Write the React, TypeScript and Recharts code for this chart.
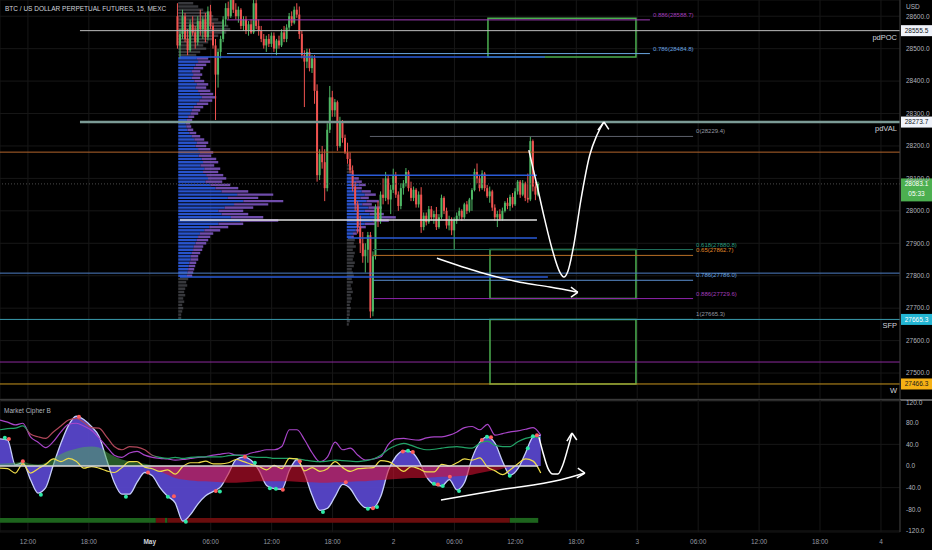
import React from 'react';
import {
  ComposedChart,
  Bar,
  Line,
  Area,
  Scatter,
  XAxis,
  YAxis,
  CartesianGrid,
  ReferenceLine,
  ReferenceArea,
} from 'recharts';

// x axis unit = one 15 min bar, 0 = Apr 30 12:00
const T_MIN = -11;
const T_MAX = 343.5;
const FIRST_BAR = 59;
const PRICE_DOMAIN = [27420, 28650];

const timeTicks = [0, 24, 48, 72, 96, 120, 144, 168, 192, 216, 240, 264, 288, 312, 336];
const timeLabels = ['12:00', '18:00', 'May', '06:00', '12:00', '18:00', '2', '06:00', '12:00', '18:00', '3', '06:00', '12:00', '18:00', '4'];
const priceTicks = [27500, 27600, 27700, 27800, 27900, 28000, 28100, 28200, 28300, 28400, 28500, 28600];
const oscTicks = [-120, -80, -40, 0, 40, 80, 120];

// [open, high, low, close] from bar 59 onward
const ohlc: number[][] = [
  [28600, 28640, 28500, 28510], [28510, 28560, 28470, 28545], [28545, 28620, 28530, 28600], [28600, 28610, 28520, 28530],
  [28530, 28560, 28480, 28495], [28495, 28590, 28490, 28575], [28575, 28600, 28540, 28550], [28550, 28570, 28500, 28520],
  [28520, 28600, 28510, 28585], [28585, 28620, 28540, 28560], [28560, 28600, 28530, 28590], [28590, 28610, 28520, 28535],
  [28535, 28630, 28525, 28615], [28615, 28635, 28560, 28570], [28570, 28580, 28500, 28510], [28510, 28530, 28280, 28420],
  [28420, 28500, 28380, 28490], [28490, 28540, 28470, 28530], [28530, 28600, 28520, 28590], [28590, 28640, 28570, 28625],
  [28625, 28645, 28590, 28600], [28600, 28660, 28595, 28650], [28650, 28680, 28610, 28620], [28620, 28640, 28590, 28600],
  [28600, 28630, 28580, 28620], [28620, 28625, 28560, 28570], [28570, 28600, 28555, 28590], [28590, 28600, 28545, 28555],
  [28555, 28585, 28540, 28575], [28575, 28590, 28545, 28550], [28550, 28670, 28545, 28640], [28640, 28660, 28560, 28570],
  [28570, 28590, 28540, 28555], [28555, 28570, 28520, 28530], [28530, 28545, 28500, 28510], [28510, 28540, 28490, 28530],
  [28530, 28545, 28505, 28515], [28515, 28550, 28505, 28540], [28540, 28550, 28490, 28500], [28500, 28530, 28480, 28525],
  [28525, 28540, 28500, 28510], [28510, 28560, 28505, 28550], [28550, 28570, 28520, 28530], [28530, 28575, 28520, 28565],
  [28565, 28610, 28555, 28600], [28600, 28615, 28570, 28580], [28580, 28630, 28575, 28620], [28620, 28640, 28595, 28605],
  [28605, 28630, 28530, 28545], [28545, 28555, 28470, 28480], [28480, 28495, 28320, 28460], [28460, 28500, 28440, 28490],
  [28490, 28500, 28430, 28440], [28440, 28480, 28425, 28470], [28470, 28480, 28330, 28370], [28370, 28390, 28090, 28110],
  [28110, 28190, 28095, 28175], [28175, 28200, 28130, 28150], [28150, 28190, 28030, 28070], [28070, 28270, 28060, 28250],
  [28250, 28385, 28240, 28350], [28350, 28370, 28290, 28310], [28310, 28345, 28290, 28335], [28335, 28340, 28185, 28200],
  [28200, 28290, 28195, 28275], [28275, 28280, 28210, 28225], [28225, 28235, 28175, 28180], [28180, 28210, 28145, 28160],
  [28160, 28180, 28115, 28125], [28125, 28140, 28060, 28075], [28075, 28090, 28000, 28020], [28020, 28030, 27930, 27950],
  [27950, 27985, 27870, 27900], [27900, 27935, 27840, 27860], [27860, 27900, 27810, 27880], [27880, 27935, 27840, 27925],
  [27925, 27935, 27670, 27690], [27690, 27875, 27675, 27860], [27860, 28020, 27850, 28010], [28010, 28030, 27950, 27970],
  [27970, 28060, 27960, 28050], [28050, 28100, 28020, 28040], [28040, 28120, 28030, 28100], [28100, 28110, 28020, 28035],
  [28035, 28080, 27990, 28065], [28065, 28130, 28055, 28110], [28110, 28120, 28040, 28050], [28050, 28060, 28000, 28015],
  [28015, 28085, 28005, 28070], [28070, 28095, 28050, 28085], [28085, 28132, 28075, 28120], [28120, 28125, 28060, 28070],
  [28070, 28090, 28030, 28040], [28040, 28075, 28030, 28065], [28065, 28070, 28010, 28020], [28020, 28060, 28010, 28050],
  [28050, 28073, 27932, 27950], [27950, 27995, 27940, 27985], [27985, 27995, 27955, 27965], [27965, 28015, 27960, 28005],
  [28005, 28015, 27970, 27980], [27980, 28000, 27960, 27990], [27990, 28012, 27941, 27950], [27950, 27990, 27945, 27980],
  [27980, 28050, 27975, 28040], [28040, 28045, 27990, 28000], [28000, 28010, 27945, 27955], [27955, 27985, 27940, 27970],
  [27970, 27980, 27925, 27940], [27940, 27980, 27880, 27970], [27970, 27995, 27960, 27985], [27985, 28010, 27975, 28000],
  [28000, 28005, 27970, 27980], [27980, 28025, 27975, 28020], [28020, 28030, 27990, 28000], [28000, 28040, 27995, 28035],
  [28035, 28070, 28000, 28064], [28064, 28130, 28060, 28120], [28120, 28146, 28085, 28100], [28100, 28110, 28060, 28070],
  [28070, 28125, 28065, 28115], [28115, 28120, 28060, 28070], [28070, 28080, 28040, 28045], [28045, 28075, 28025, 28060],
  [28060, 28065, 28000, 28010], [28010, 28020, 27970, 27980], [27980, 28000, 27950, 27990], [27990, 28005, 27970, 27975],
  [27975, 28010, 27970, 28000], [28000, 28030, 27995, 28025], [28025, 28040, 28005, 28015], [28015, 28050, 28000, 28043],
  [28043, 28055, 28010, 28020], [28020, 28070, 28015, 28060], [28060, 28095, 28050, 28090], [28090, 28095, 28040, 28050],
  [28050, 28095, 28045, 28085], [28085, 28090, 28030, 28040], [28040, 28115, 28025, 28035], [28035, 28229, 28030, 28215],
  [28215, 28220, 28060, 28075], [28075, 28090, 28033, 28050], [28050, 28090, 28045, 28083],
];

// volume profiles: one row per 10 USD, listed from the top price down
const PROFILE_ROW = 10;
const profile1Start = 59.2;
const profile1Top = 28640;
const profile1Va = [27800, 28470];
const profile1Vol = [
  15, 20, 25, 30, 35, 40, 45, 50, 52, 48, 40, 35, 30, 25, 28, 22, 18,
  30, 32, 28, 25, 22, 24, 22, 26, 30, 28, 32, 35, 38, 34, 30, 25, 22, 20, 16, 14,
  12, 13, 15, 18, 22, 26, 30, 28, 32, 35, 33, 38, 40, 36, 42, 40, 45, 48, 44, 52,
  60, 70, 95, 80, 105, 90, 75, 65, 70, 85, 100, 65, 50, 42, 35, 32, 30, 28, 25, 24,
  22, 20, 20, 18, 17, 16, 15, 14,
  10, 8, 9, 7, 6, 7, 5, 6, 4, 5, 4, 3, 3,
];
const profile2Start = 125.6;
const profile2Top = 28140;
const profile2Va = [27920, 28110];
const profile2Vol = [
  4, 5, 6,
  7, 12, 15, 19, 15, 24, 29, 22, 32, 25, 35, 29, 37, 49, 42, 29, 19, 14, 10, 7,
  8, 7, 9, 6, 8, 7, 6, 8, 7, 5, 6, 7, 5, 6, 4, 5, 6, 4, 5, 4, 3, 4, 3, 3, 2, 3, 2,
];
const VOL_SCALE = 0.394;

const fibUpper: [string, number, string][] = [
  ['0.886', 28588.7, '#a33dbb'],
  ['0.786', 28484.8, '#6aa6e0'],
];
const fibLower: [string, number, string, string][] = [
  ['0', 28229.4, '#9598a1', '#5d606b'],
  ['0.618', 27880.8, '#2a9d7f', '#1f6e5c'],
  ['0.65', 27862.7, '#e08a2a', '#b86f26'],
  ['0.786', 27786.0, '#6aa6e0', '#5b8fd0'],
  ['0.886', 27729.6, '#a33dbb', '#8e24aa'],
  ['1', 27665.3, '#9598a1', '#3a9aac'],
];

// oscillator (Market Cipher B), sampled every 3 bars from T_MIN
const oscT = Array.from({ length: 72 }, (_, i) => T_MIN + i * 3);
const wave = [50, 48, 2, 6, -25, -50, -40, 2, 42, 75, 92, 86, 73, 55, 12, -30, -52, -52, -30, -12,
  -18, -40, -56, -68, -102, -90, -70, -55, -47, -38, -14, 12, 17, 10, -8, -36, -42, -43, -8, 12,
  -15, -55, -82, -78, -56, -34, -42, -64, -77, -77, -56, -8, 18, 28, 26, 9, -20, -34, -37, -25,
  -44, -30, 15, 44, 54, 42, 8, -17, -5, 24, 54, 57];
const mfUp = [4, 5, 6, 8, 4, 3, 6, 14, 22, 28, 32, 35, 36, 34, 26, 18, 12, 9, 6, 4, 1, 0,
  0, 0, 0, 0, 0, 0, 0, 0, 0, 0, 0, 0, 0, 0, 0, 0, 0, 0, 0, 0, 0, 0, 0, 0, 0, 0, 0, 0,
  0, 0, 0, 0, 0, 0, 0, 0, 0, 0, 0, 0, 0, 0, 0, 0, 0, 0, 0, 0, 0, 0];
const mfDown = [0, 0, 0, 0, 0, 0, 0, 0, 0, 0, 0, 0, 0, 0, 0, 0, 0, 0, 0, 0,
  -4, -10, -16, -22, -25, -27, -28, -28, -29, -30, -31, -31, -30, -29, -28, -28, -28, -28, -28, -29,
  -30, -30, -31, -31, -30, -30, -29, -28, -28, -27, -26, -25, -24, -23, -22, -22, -22, -21, -20, -20,
  -19, -18, -16, -13, -10, -8, -5, -1, 0, 0, 0, 0];
const rsi = [85, 81, 76, 79, 54, 44, 34, 45, 63, 77, 79, 74, 66, 52, 36, 20, 16, 24, 27, 20,
  16, 14, 13, 11, 12, 14, 16, 17, 20, 22, 24, 20, 20, 24, 27, 30, 30, 36, 67, 67,
  48, 24, 8, 17, 44, 30, 33, 20, 11, 13, 17, 40, 50, 51, 49, 48, 52, 54, 54, 57,
  63, 71, 73, 67, 77, 57, 60, 63, 65, 68, 71, 57];
const stoch = [67, 69, 70, 74, 59, 54, 51, 63, 74, 85, 88, 81, 71, 70, 54, 36, 30, 36, 35, 30,
  20, 16, 14, 16, 14, 16, 17, 17, 17, 17, 19, 20, 19, 17, 16, 16, 14, 14, 14, 13,
  11, 9, 8, 9, 11, 10, 9, 8, 10, 13, 20, 31, 38, 42, 38, 33, 30, 31, 33, 35,
  36, 34, 33, 42, 46, 38, 36, 36, 45, 51, 54, 52];
const mom = [-4, -5, -13, 4, -13, -5, 3, 13, 8, 14, 9, -4, -1, -4, -9, -12, -3, 8, 8, -2,
  -5, -10, -7, -15, -1, 6, 6, 9, 4, 4, 6, 12, 8, 3, -1, -7, 1, -5, 14, 13,
  -9, -3, -10, -5, 8, -3, -10, -5, -4, -3, 10, 8, 0, -10, -1, -5, -11, -11, 3, 0,
  6, 13, 11, 15, -2, -9, -16, -7, 4, 13, 9, -13];
const greenDots = [[-9.1, 52], [5.1, -53], [38.6, -57], [55.1, -57], [62.2, -103], [75.6, -47], [89.4, 6],
  [95.3, -41], [97.7, -42], [116.2, -85], [133.9, -79], [137.5, -76], [149.7, 28], [159.9, -33],
  [163.4, -37], [169.8, -46], [180.8, 54], [189.8, -18], [196.9, 33], [198.9, 55]];
const redDots = [[-7.5, 50], [-2, 9], [20.1, 91], [47.3, -12], [57.5, -56], [74, -46], [85.5, 17],
  [100.4, -44], [107.1, 9], [125.2, -30], [135.9, -78], [147.7, 27], [151.6, 26], [161.5, -34],
  [166.2, -20], [178.8, 48], [182.4, 53], [200.5, 57]];
const strip: [number, number, string][] = [
  [-11, 50.4, '#1d641d'], [50.4, 54, '#6a0d0d'], [54, 55, '#1d641d'], [55, 189.8, '#6a0d0d'], [189.8, 201, '#1d641d'],
];

// hand drawn annotations
const drawCurve = [[197.3, 28187], [200.5, 28079], [203.6, 27972], [206.8, 27873], [209.5, 27811], [211.1, 27796],
  [212.7, 27814], [215.0, 27894], [217.8, 28033], [221.3, 28172], [224.1, 28233], [226.7, 28272]];
const drawLine = [[161.1, 27854], [178, 27811], [193.8, 27780], [205.6, 27765], [216.6, 27749]];
const oscCurve = [[201.3, 53], [202.8, 26], [204.8, -4], [206.8, -15], [208.7, -15], [210.7, 2], [212.7, 33], [214.3, 60]];
const oscLine = [[162.7, -63], [185.9, -44], [209.5, -26], [219.4, -13]];

const GREEN = '#4fb865';
const RED = '#ef5350';
const AXIS_TEXT = '#b2b5be';

const candleRows = ohlc.map(([o, h, l, c], i) => ({ t: FIRST_BAR + i, o, h, l, c }));
const oscRows = oscT.map((t, i) => ({ t, wave: wave[i], mfUp: mfUp[i], mfDown: mfDown[i], rsi: rsi[i], stoch: stoch[i], mom: mom[i] }));
const toPts = (arr: number[][], key: string) => arr.map(([t, v]) => ({ t, [key]: v }));

function Candle(props: any) {
  const { x, y, width, height, payload } = props;
  if (!payload || y == null) return null;
  const { o, h, l, c } = payload;
  const top = Math.min(y, y + height);
  const span = Math.abs(height);
  const k = h === l ? 0 : span / (h - l);
  const yOf = (p: number) => top + (h - p) * k;
  const color = c >= o ? GREEN : RED;
  const cx = x + width / 2;
  const bTop = yOf(Math.max(o, c));
  const bH = Math.max(1, yOf(Math.min(o, c)) - bTop);
  return (
    <g>
      <line x1={cx} x2={cx} y1={top} y2={top + span} stroke={color} strokeWidth={1} />
      <rect x={x} y={bTop} width={width} height={bH} fill={color} />
    </g>
  );
}

function profileRows(id: string, t0: number, top: number, vols: number[], va: number[]) {
  return vols.flatMap((v, i) => {
    const p = top - i * PROFILE_ROW;
    const len = v * VOL_SCALE;
    const common = { y1: p - 3.8, y2: p + 3.8, strokeWidth: 0, ifOverflow: 'hidden' as const };
    if (p < va[0] || p > va[1]) {
      return [<ReferenceArea key={`${id}g${i}`} x1={t0} x2={t0 + len} fill="#8a8d96" fillOpacity={0.4} {...common} />];
    }
    const split = t0 + len * 0.62;
    return [
      <ReferenceArea key={`${id}b${i}`} x1={t0} x2={split} fill="#2f62f0" fillOpacity={0.85} {...common} />,
      <ReferenceArea key={`${id}p${i}`} x1={split} x2={t0 + len} fill="#8b5fd6" fillOpacity={0.8} {...common} />,
    ];
  });
}

const fibLabel = (text: string, color: string) => (props: any) => {
  const vb = props.viewBox;
  return (
    <text x={vb.x + vb.width + 3} y={vb.y - 3} fill={color} fontSize={6}>
      {text}
    </text>
  );
};

const tagLabel = (text: string, bg: string, fg: string, name?: string, sub?: string) => (props: any) => {
  const vb = props.viewBox;
  const right = vb.x + vb.width;
  return (
    <g>
      {name && (
        <text x={right - 3} y={vb.y + 9} textAnchor="end" fill="#d1d4dc" fontSize={7.5}>
          {name}
        </text>
      )}
      <rect x={right + 1} y={vb.y - 5.5} width={31} height={sub ? 23 : 11} fill={bg} />
      <text x={right + 16.5} y={vb.y + 2.3} textAnchor="middle" fill={fg} fontSize={6.5}>
        {text}
      </text>
      {sub && (
        <text x={right + 16.5} y={vb.y + 12.5} textAnchor="middle" fill={fg} fontSize={6.5}>
          {sub}
        </text>
      )}
    </g>
  );
};

function TimeTick(props: any) {
  const { x, y, payload } = props;
  const label = timeLabels[timeTicks.indexOf(payload.value)];
  const strong = label === 'May';
  return (
    <text x={x} y={y + 4} textAnchor="middle" fontSize={6.5} fill={strong ? '#d1d4dc' : '#9598a1'} fontWeight={strong ? 700 : 400}>
      {label}
    </text>
  );
}

const dot = (color: string) => (p: any) => <circle cx={p.cx} cy={p.cy} r={2} fill={color} />;
const white = { stroke: '#ffffff', strokeWidth: 1.5 };

export default function App() {
  return (
    <div
      style={{
        position: 'absolute',
        left: 0,
        top: 0,
        width: 932,
        height: 550,
        background: '#000',
        overflow: 'hidden',
        fontFamily: '"Liberation Sans", Arial, sans-serif',
      }}
    >
      <div style={{ position: 'absolute', left: 0, top: 0 }}>
        <ComposedChart width={932} height={399} data={candleRows} margin={{ top: 0, right: 0, bottom: 0, left: 0 }}>
          <CartesianGrid stroke="#171717" />
          <XAxis type="number" dataKey="t" domain={[T_MIN, T_MAX]} ticks={timeTicks} allowDataOverflow hide />
          <YAxis
            orientation="right"
            width={32}
            domain={PRICE_DOMAIN}
            ticks={priceTicks}
            allowDataOverflow
            tickFormatter={(v: number) => v.toFixed(1)}
            tick={{ fill: AXIS_TEXT, fontSize: 6.5 }}
            tickLine={false}
            tickSize={4}
            tickMargin={2}
            axisLine={{ stroke: '#3c3c3c' }}
          />
          {profileRows('a', profile1Start, profile1Top, profile1Vol, profile1Va)}
          {profileRows('b', profile2Start, profile2Top, profile2Vol, profile2Va)}
          <ReferenceArea x1={181.2} x2={239.5} y1={28594} y2={28474} fill="none" stroke="#4caf50" strokeWidth={1.5} />
          <ReferenceArea x1={182} x2={239.5} y1={27880.8} y2={27729.6} fill="none" stroke="#4caf50" strokeWidth={1.5} />
          <ReferenceArea x1={182} x2={239.5} y1={27665.3} y2={27466.3} fill="none" stroke="#4caf50" strokeWidth={1.5} />
          <Bar dataKey={(d: any) => [d.l, d.h]} barSize={2} shape={(p: any) => <Candle {...p} />} isAnimationActive={false} />

          <ReferenceLine segment={[{ x: 20.5, y: 28555.5 }, { x: T_MAX, y: 28555.5 }]} stroke="#bdbdbd" strokeWidth={1}
            label={tagLabel('28555.5', '#f0f3fa', '#131722', 'pdPOC')} />
          <ReferenceLine segment={[{ x: 20.5, y: 28273.7 }, { x: T_MAX, y: 28273.7 }]} stroke="#7b9a95" strokeWidth={2.5}
            label={tagLabel('28273.7', '#f0f3fa', '#131722', 'pdVAL')} />
          <ReferenceLine y={28181} stroke="#b3652c" strokeWidth={1} />
          <ReferenceLine y={28083.1} stroke="#4a4a4a" strokeDasharray="1 2"
            label={tagLabel('28083.1', '#4caf50', '#ffffff', undefined, '05:33')} />
          <ReferenceLine y={27808} stroke="#4f7fc4" strokeWidth={1} />
          <ReferenceLine y={27665.3} stroke="#3a9aac" strokeWidth={1} label={tagLabel('27665.3', '#22b5d3', '#ffffff', 'SFP')} />
          <ReferenceLine y={27534} stroke="#8b2a9c" strokeWidth={1} />
          <ReferenceLine y={27466.3} stroke="#c8961e" strokeWidth={1} label={tagLabel('27466.3', '#f5b014', '#1a1a1a', 'W')} />

          <ReferenceLine segment={[{ x: 59.9, y: 28474 }, { x: 203.6, y: 28474 }]} stroke="#2a5bd7" strokeWidth={1.5} />
          <ReferenceLine segment={[{ x: 59.9, y: 27796 }, { x: 204.8, y: 27796 }]} stroke="#2a5bd7" strokeWidth={1.5} />
          <ReferenceLine segment={[{ x: 59.9, y: 27972 }, { x: 200.5, y: 27972 }]} stroke="#e0e0e0" strokeWidth={1.5} />
          <ReferenceLine segment={[{ x: 126, y: 28110 }, { x: 200.5, y: 28110 }]} stroke="#2a5bd7" strokeWidth={1.5} />
          <ReferenceLine segment={[{ x: 126, y: 27916 }, { x: 200.5, y: 27916 }]} stroke="#2a5bd7" strokeWidth={1.5} />

          {fibUpper.map(([r, p, c]) => (
            <ReferenceLine key={`fu${r}`} segment={[{ x: 78.4, y: p }, { x: 245, y: p }]} stroke={c} strokeWidth={1}
              label={fibLabel(`${r}(${p.toFixed(1)})`, c)} />
          ))}
          {fibLower.map(([r, p, c, lc]) => (
            <ReferenceLine key={`fl${r}`} segment={[{ x: r === '0' ? 134.7 : 136, y: p }, { x: 262, y: p }]} stroke={lc}
              strokeWidth={1} label={fibLabel(`${r}(${p.toFixed(1)})`, c)} />
          ))}
        </ComposedChart>
      </div>

      {/* drawings layer, same scales as the price pane */}
      <div style={{ position: 'absolute', left: 0, top: 0 }}>
        <ComposedChart width={932} height={399} margin={{ top: 0, right: 32, bottom: 0, left: 0 }}>
          <XAxis type="number" dataKey="t" domain={[T_MIN, T_MAX]} allowDataOverflow hide />
          <YAxis type="number" domain={PRICE_DOMAIN} allowDataOverflow hide />
          <Line data={toPts(drawCurve, 'p')} dataKey="p" type="monotone" dot={false} activeDot={false} {...white} isAnimationActive={false} />
          <Line data={toPts(drawLine, 'p')} dataKey="p" type="monotone" dot={false} activeDot={false} {...white} isAnimationActive={false} />
          <ReferenceLine segment={[{ x: 224.5, y: 28249 }, { x: 226.9, y: 28274 }]} {...white} />
          <ReferenceLine segment={[{ x: 228.8, y: 28251 }, { x: 226.9, y: 28274 }]} {...white} />
          <ReferenceLine segment={[{ x: 213.9, y: 27765 }, { x: 216.6, y: 27749 }]} {...white} />
          <ReferenceLine segment={[{ x: 213.9, y: 27734 }, { x: 216.6, y: 27749 }]} {...white} />
        </ComposedChart>
      </div>

      <div style={{ position: 'absolute', left: 0, top: 399, width: 932, height: 2, background: '#5f5f5f' }} />

      <div style={{ position: 'absolute', left: 0, top: 399 }}>
        <ComposedChart width={932} height={151} data={oscRows} margin={{ top: 1, right: 0, bottom: 0, left: 0 }}>
          <defs>
            <linearGradient id="stochGrad" gradientUnits="userSpaceOnUse" x1="0" y1="0" x2="932" y2="0">
              <stop offset="0" stopColor="#22a266" />
              <stop offset="0.027" stopColor="#22a266" />
              <stop offset="0.032" stopColor="#b0475a" />
              <stop offset="0.16" stopColor="#b0475a" />
              <stop offset="0.17" stopColor="#22a266" />
              <stop offset="1" stopColor="#22a266" />
            </linearGradient>
          </defs>
          <CartesianGrid stroke="#171717" />
          <XAxis
            type="number"
            dataKey="t"
            domain={[T_MIN, T_MAX]}
            ticks={timeTicks}
            interval={0}
            allowDataOverflow
            height={18}
            tickLine={false}
            axisLine={false}
            tick={<TimeTick />}
          />
          <YAxis
            orientation="right"
            width={32}
            domain={[-122, 122]}
            ticks={oscTicks}
            allowDataOverflow
            tickFormatter={(v: number) => v.toFixed(1)}
            tick={{ fill: AXIS_TEXT, fontSize: 6.5 }}
            tickLine={false}
            tickSize={4}
            tickMargin={2}
            axisLine={{ stroke: '#3c3c3c' }}
          />
          {strip.map(([a, b, c], i) => (
            <ReferenceArea key={`s${i}`} x1={a} x2={b} y1={-96} y2={-105} fill={c} fillOpacity={1} strokeWidth={0} />
          ))}
          <Area dataKey="wave" type="monotone" baseValue={0} fill="#5a48d0" fillOpacity={0.92} stroke="#c5cdfa"
            strokeWidth={1.3} dot={false} isAnimationActive={false} />
          <Area dataKey="mfUp" type="monotone" baseValue={0} fill="#4caf50" fillOpacity={0.5} stroke="none" isAnimationActive={false} />
          <Area dataKey="mfDown" type="monotone" baseValue={0} fill="#d01030" fillOpacity={0.6} stroke="none" isAnimationActive={false} />
          <Line dataKey="rsi" type="monotone" stroke="#a945c9" strokeWidth={1.2} dot={false} isAnimationActive={false} />
          <Line dataKey="stoch" type="monotone" stroke="url(#stochGrad)" strokeWidth={1.2} dot={false} isAnimationActive={false} />
          <Line dataKey="mom" type="monotone" stroke="#eedc4a" strokeWidth={1.2} dot={false} isAnimationActive={false} />
          <ReferenceLine segment={[{ x: T_MIN, y: 0 }, { x: 201, y: 0 }]} stroke="#d8d8d8" strokeWidth={1.5} />
          <Scatter data={toPts(greenDots, 'v')} dataKey="v" shape={dot('#2ee8a5')} isAnimationActive={false} />
          <Scatter data={toPts(redDots, 'v')} dataKey="v" shape={dot('#ff5d5d')} isAnimationActive={false} />
          <Line data={toPts(oscCurve, 'v')} dataKey="v" type="monotone" dot={false} activeDot={false} {...white} isAnimationActive={false} />
          <Line data={toPts(oscLine, 'v')} dataKey="v" type="monotone" dot={false} activeDot={false} {...white} isAnimationActive={false} />
          <ReferenceLine segment={[{ x: 212.3, y: 46 }, { x: 214.3, y: 61 }]} {...white} />
          <ReferenceLine segment={[{ x: 216.2, y: 48 }, { x: 214.3, y: 61 }]} {...white} />
          <ReferenceLine segment={[{ x: 216.6, y: -4 }, { x: 219.4, y: -13 }]} {...white} />
          <ReferenceLine segment={[{ x: 216.2, y: -22 }, { x: 219.4, y: -13 }]} {...white} />
        </ComposedChart>
      </div>

      <div style={{ position: 'absolute', left: 5, top: 5, fontSize: 6.5, color: '#d1d4dc', whiteSpace: 'nowrap' }}>
        BTC / US DOLLAR PERPETUAL FUTURES, 15, MEXC
      </div>
      <div style={{ position: 'absolute', left: 4, top: 407, fontSize: 6.5, color: '#b2b5be', whiteSpace: 'nowrap' }}>
        Market Cipher B
      </div>
      <div style={{ position: 'absolute', left: 902, top: 3, width: 28, fontSize: 6.5, color: '#b2b5be', background: '#000', paddingLeft: 4 }}>
        USD
      </div>
    </div>
  );
}
